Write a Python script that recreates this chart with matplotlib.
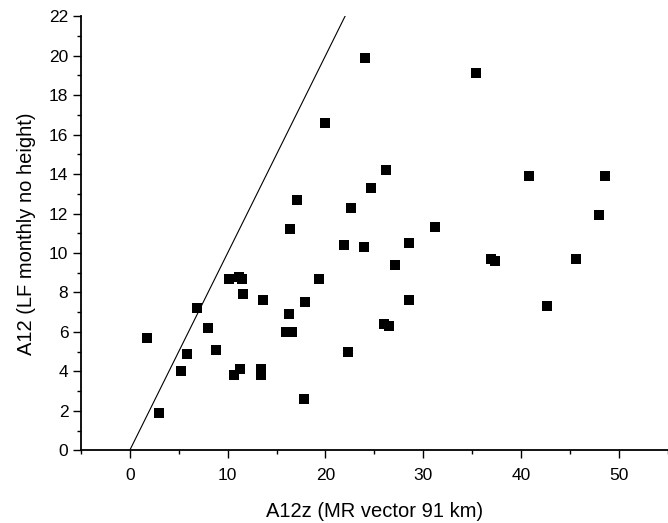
import matplotlib
matplotlib.use('Agg')
import matplotlib.pyplot as plt
from matplotlib.ticker import MultipleLocator

plt.rcParams['font.family'] = ['Liberation Sans', 'DejaVu Sans']

# data
a12z = [1.8, 3.0, 5.2, 5.8, 6.9, 8.0, 8.8, 10.1, 10.7, 11.3, 11.2, 11.5, 11.6,
        13.4, 13.4, 13.6, 16.0, 16.3, 16.6, 16.4, 17.1, 17.8, 17.9, 19.3, 20.0,
        21.9, 22.3, 22.6, 24.0, 23.9, 24.7, 26.0, 26.2, 26.5, 27.1, 28.5, 28.5,
        31.2, 35.4, 36.9, 37.3, 40.8, 42.6, 45.6, 48.0, 48.6]
a12 = [5.7, 1.9, 4.0, 4.9, 7.2, 6.2, 5.1, 8.7, 3.8, 4.1, 8.8, 8.7, 7.9,
       3.8, 4.1, 7.6, 6.0, 6.9, 6.0, 11.2, 12.7, 2.6, 7.5, 8.7, 16.6,
       10.4, 5.0, 12.3, 19.9, 10.3, 13.3, 6.4, 14.2, 6.3, 9.4, 10.5, 7.6,
       11.3, 19.1, 9.7, 9.6, 13.9, 7.3, 9.7, 11.9, 13.9]
line_x = [0, 30]
line_y = [0, 30]

fig = plt.figure(figsize=(6.68, 5.23), dpi=100)
ax = fig.add_axes([0.121, 0.139, 0.879, 0.830])

ax.plot(line_x, line_y, color='black', linewidth=0.8)
ax.plot(a12z, a12, linestyle='none', marker='s', markersize=7.2,
        color='black', markeredgewidth=0)

ax.set_xlim(-5, 55)
ax.set_ylim(0, 22)
ax.xaxis.set_major_locator(MultipleLocator(10))
ax.xaxis.set_minor_locator(MultipleLocator(5))
ax.yaxis.set_major_locator(MultipleLocator(2))
ax.yaxis.set_minor_locator(MultipleLocator(1))

for s in ['top', 'right']:
    ax.spines[s].set_visible(False)
for s in ['left', 'bottom']:
    ax.spines[s].set_linewidth(1.3)

ax.tick_params(which='major', direction='out', length=5.5, width=1, labelsize=12.5)
ax.tick_params(axis='x', which='major', pad=7)
ax.tick_params(which='minor', direction='out', length=3, width=1)

ax.set_xlabel('A12z (MR vector 91 km)', fontsize=14.5, labelpad=14)
ax.set_ylabel('A12 (LF monthly no height)', fontsize=14.5, labelpad=9)

fig.savefig('out.png', dpi=100)
